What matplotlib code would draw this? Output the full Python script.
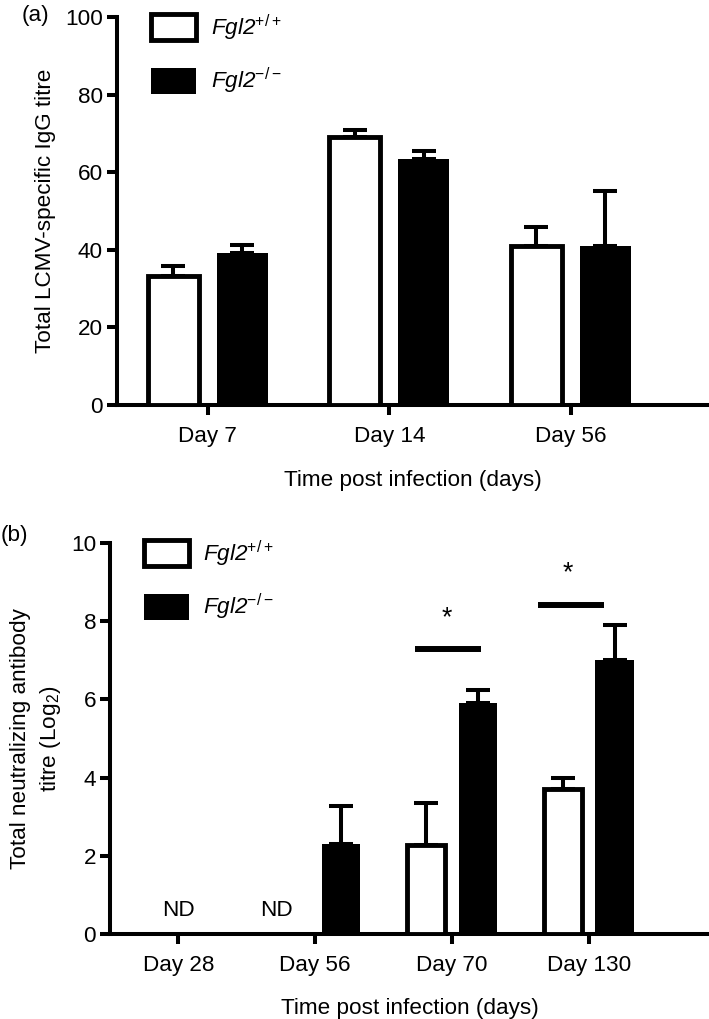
import numpy as np
import matplotlib
matplotlib.use('Agg')
import matplotlib.pyplot as plt
from matplotlib.patches import Patch

plt.rcParams['font.family'] = ['Liberation Sans', 'DejaVu Sans']
plt.rcParams['mathtext.fontset'] = 'custom'
plt.rcParams['mathtext.rm'] = 'Liberation Sans'
plt.rcParams['mathtext.it'] = 'Liberation Sans:italic'

# ---------------- data ----------------
series_labels = ['Fgl2$^{+/+}$', 'Fgl2$^{-/-}$']

days_a = ['Day 7', 'Day 14', 'Day 56']
wt_a = [33.3, 69.1, 40.9]
wt_a_err = [2.6, 1.8, 4.9]
ko_a = [39.3, 63.4, 41.0]
ko_a_err = [1.9, 2.0, 14.2]
yticks_a = [0, 20, 40, 60, 80, 100]

days_b = ['Day 28', 'Day 56', 'Day 70', 'Day 130']
wt_b = [0.0, 0.0, 2.27, 3.72]
wt_b_err = [0.0, 0.0, 1.09, 0.26]
wt_b_nd = [True, True, False, False]
ko_b = [0.0, 2.30, 5.92, 7.00]
ko_b_err = [0.0, 0.97, 0.32, 0.91]
ko_b_nd = [True, False, False, False]
yticks_b = [0, 2, 4, 6, 8, 10]
nd_label = 'ND'

sig_groups = [2, 3]
sig_line_y = [7.28, 8.41]
sig_star_y = [8.08, 9.22]

# ---------------- style ----------------
W, H = 709, 1019
fig = plt.figure(figsize=(W / 100, H / 100), dpi=100)
FS = 16.2
LW = 2.9
BAR_W = 0.28
OFF = 0.19
EDGE = 3.5


def style_axes(ax, ymax):
    for s in ['top', 'right']:
        ax.spines[s].set_visible(False)
    ax.spines['left'].set_linewidth(LW)
    ax.spines['bottom'].set_linewidth(LW)
    ax.spines['left'].set_bounds(0, ymax)
    ax.spines['left'].set_capstyle('projecting')
    ax.spines['bottom'].set_capstyle('projecting')
    ax.tick_params(axis='both', width=LW, length=7, labelsize=FS, color='black')
    ax.tick_params(axis='y', pad=3)
    ax.tick_params(axis='x', pad=8)


def draw_bars(ax, x, vals, errs, nd, face, edge_lw):
    x = np.asarray(x, dtype=float)
    keep = [not n for n in nd]
    xs = x[keep]
    vs = np.asarray(vals)[keep]
    es = np.asarray(errs)[keep]
    ax.errorbar(xs, vs, yerr=[np.zeros_like(es), es], fmt='none', ecolor='black',
                elinewidth=LW, capsize=8.5, capthick=LW, zorder=2)
    ax.bar(xs, vs, width=BAR_W, facecolor=face, edgecolor='black',
           linewidth=edge_lw, zorder=3)


def add_legend(ax, anchor):
    handles = [Patch(facecolor='white', edgecolor='black', linewidth=EDGE),
               Patch(facecolor='black', edgecolor='black', linewidth=0)]
    ax.legend(handles, series_labels, loc='upper left', bbox_to_anchor=anchor,
              frameon=False, prop={'size': FS, 'style': 'italic'},
              handlelength=2.0, handleheight=1.4,
              labelspacing=1.05, handletextpad=0.65, borderaxespad=0, borderpad=0)


# ---------------- panel (a) ----------------
axa = fig.add_axes([117 / W, 1 - 405 / H, 1 - 117 / W, (405 - 17) / H])
xa = np.arange(len(days_a))
draw_bars(axa, xa - OFF, wt_a, wt_a_err, [False] * 3, 'white', EDGE)
draw_bars(axa, xa + OFF, ko_a, ko_a_err, [False] * 3, 'black', 0)
axa.set_xlim(-0.5, 2.76)
axa.set_ylim(0, 100)
axa.set_yticks(yticks_a)
axa.set_xticks(xa)
axa.set_xticklabels(days_a)
style_axes(axa, 100)
axa.set_ylabel('Total LCMV-specific IgG titre', fontsize=FS, labelpad=7)
axa.set_xlabel('Time post infection (days)', fontsize=FS, labelpad=17)
add_legend(axa, (0.058, 1.012))
fig.text(22 / W, 1 - 16 / H, '(a)', fontsize=FS, ha='left', va='center')

# ---------------- panel (b) ----------------
axb = fig.add_axes([110 / W, 1 - 934 / H, 1 - 110 / W, (934 - 543) / H])
xb = np.arange(len(days_b))
draw_bars(axb, xb - OFF, wt_b, wt_b_err, wt_b_nd, 'white', EDGE)
draw_bars(axb, xb + OFF, ko_b, ko_b_err, ko_b_nd, 'black', 0)
axb.set_xlim(-0.5, 3.88)
axb.set_ylim(0, 10)
axb.set_yticks(yticks_b)
axb.set_xticks(xb)
axb.set_xticklabels(days_b)
style_axes(axb, 10)
axb.set_ylabel('Total neutralizing antibody\ntitre (Log$_2$)', fontsize=FS,
               labelpad=6, linespacing=1.35)
axb.set_xlabel('Time post infection (days)', fontsize=FS, labelpad=16)
add_legend(axb, (0.056, 1.012))
fig.text(1 / W, 1 - 535 / H, '(b)', fontsize=FS, ha='left', va='center')

# ND annotations
nd_pos = [0.0, 1 - 0.28]
for xpos in nd_pos:
    axb.text(xpos, 0.6, nd_label, ha='center', va='center', fontsize=FS)

# significance
sig_left = [0.27, 0.37]
sig_right = [0.21, 0.11]
star_dx = [-0.04, -0.15]
for g, ly, sy, l, r, dx in zip(sig_groups, sig_line_y, sig_star_y, sig_left, sig_right, star_dx):
    axb.plot([g - l, g + r], [ly, ly], color='black', lw=4.3, solid_capstyle='butt', zorder=4)
    axb.text(g + dx, sy, '*', ha='center', va='center', fontsize=FS + 3)

fig.savefig('out.png', dpi=100)
